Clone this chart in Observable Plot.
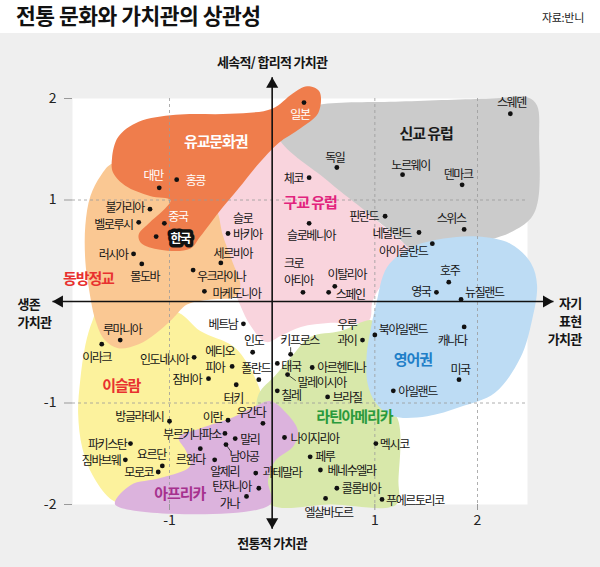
<!DOCTYPE html>
<html><head><meta charset="utf-8">
<script src="https://cdn.jsdelivr.net/npm/d3@7"></script>
<script src="https://cdn.jsdelivr.net/npm/@observablehq/plot@0.6"></script>
<style>
body{margin:0;background:#fff;font-family:"Noto Sans CJK KR",sans-serif;}
#wrap{width:600px;height:567px;position:relative}
#head{height:33px;position:relative;background:#fff}
#title{position:absolute;left:16px;top:0px;font-size:21.5px;font-weight:bold;letter-spacing:-0.5px;line-height:30px;color:#111;white-space:nowrap}
#src{position:absolute;right:16px;top:10px;font-size:11px;line-height:14px;color:#222;letter-spacing:-0.3px}
#chart svg{display:block}
.lbl text{letter-spacing:-1.4px}
.grp text{letter-spacing:-1.1px}
.axt text{letter-spacing:-0.7px}
</style></head><body>
<div id="wrap"><div id="head"><div id="title">전통 문화와 가치관의 상관성</div><div id="src">자료:반니</div></div><div id="chart"></div></div>
<script>
// ---- data ----
const names = ["대만","홍콩","불가리아","벨로루시","중국","한국","러시아","몰도바","슬로바키아","세르비아","우크라이나","마케도니아","일본","스웨덴","독일","노르웨이","체코","덴마크","핀란드","스위스","슬로베니아","네덜란드","아이슬란드","크로아티아","이탈리아","스페인","호주","영국","뉴질랜드","베트남","루마니아","이라크","인도","에티오피아","인도네시아","폴란드","잠비아","터키","방글라데시","이란","우간다","부르키나파소","말리","파키스탄","르완다","남아공","짐바브웨","요르단","알제리","모로코","과테말라","탄자니아","가나","우루과이","북아일랜드","캐나다","키프로스","태국","아르헨티나","말레이시아","칠레","브라질","미국","아일랜드","나이지리아","멕시코","페루","베네수엘라","콜롬비아","엘살바도르","푸에르토리코"];
const xVals = [-1.10,-0.93,-1.19,-1.30,-1.05,-1.13,-1.35,-1.27,-0.43,-0.50,-0.77,-0.66,0.31,2.32,0.63,1.27,0.36,1.85,1.10,1.87,0.36,1.43,1.56,0.30,0.61,0.55,1.72,1.60,1.84,-0.28,-1.48,-1.66,-0.19,-0.39,-0.76,-0.13,-0.62,-0.35,-1.00,-0.43,-0.09,-0.46,-0.36,-1.38,-0.70,-0.45,-1.43,-1.07,-0.56,-1.11,-0.16,-0.13,-0.25,0.88,1.00,1.87,0.18,0.05,0.39,0.15,0.05,0.54,1.82,1.18,0.12,1.01,0.37,0.47,0.63,0.52,1.07];
const yVals = [1.12,1.20,0.91,0.78,0.77,0.64,0.47,0.37,0.67,0.38,0.31,0.10,1.96,1.85,1.32,1.25,1.22,1.15,0.84,0.71,0.77,0.68,0.57,0.09,0.15,0.09,0.19,0.09,0.02,-0.22,-0.38,-0.42,-0.50,-0.64,-0.55,-0.77,-0.76,-0.82,-1.18,-1.17,-1.20,-1.30,-1.35,-1.40,-1.45,-1.41,-1.56,-1.62,-1.56,-1.68,-1.69,-1.84,-1.92,-0.38,-0.33,-0.25,-0.52,-0.61,-0.65,-0.72,-0.88,-0.94,-0.77,-0.88,-1.34,-1.40,-1.53,-1.66,-1.84,-1.94,-1.95];
const xTicks = [-1, 1, 2];
const yTicks = [-2, -1, 1, 2];
const groupNames = ["유교문화권","신교 유럽","구교 유럽","동방정교","이슬람","영어권","라틴아메리카","아프리카"];
const groupX = [-0.55, 1.50, 0.37, -1.79, -1.47, 1.37, 0.80, -0.90];
const groupY = [1.57, 1.65, 0.97, 0.22, -0.83, -0.58, -1.14, -1.90];
const axisTitles = ["세속적/ 합리적 가치관", "전통적 가치관", "생존\n가치관", "자기\n표현\n가치관"];
const axisExtent = {xMin: -2.14, xMax: 2.74, yMin: -2.24, yMax: 2.21};
// region outlines (data space)
const islamShape = [[-1.75,-0.19],[-1.82,-0.43],[-1.87,-0.78],[-1.89,-1.10],[-1.85,-1.44],[-1.75,-1.71],[-1.58,-1.94],[-1.43,-2.0],[-0.70,-2.0],[-0.07,-2.0],[-0.07,-1.67],[-0.09,-0.98],[-0.23,-0.63],[-0.38,-0.44],[-0.70,-0.29],[-0.91,-0.11],[-1.28,-0.04],[-1.67,-0.04]];
const orthodoxShape = [[-1.55,1.36],[-1.67,1.24],[-1.77,1.04],[-1.82,0.75],[-1.82,0.40],[-1.79,0.16],[-1.72,-0.19],[-1.63,-0.38],[-1.50,-0.46],[-1.30,-0.42],[-1.14,-0.32],[-0.97,-0.17],[-0.83,-0.03],[-0.60,0.02],[-0.36,0.05],[-0.31,0.16],[-0.39,0.40],[-0.48,0.65],[-0.54,0.90],[-0.65,1.04],[-0.99,1.14],[-1.28,1.24]];
const catholicShape = [[0.10,1.66],[0.57,1.24],[0.91,0.90],[1.25,0.60],[1.44,0.45],[1.15,0.26],[0.98,0.01],[0.94,-0.19],[0.57,-0.21],[0.28,-0.25],[0.10,-0.33],[-0.06,-0.40],[-0.21,-0.24],[-0.31,-0.04],[-0.39,0.16],[-0.46,0.40],[-0.52,0.65],[-0.55,0.88],[-0.48,1.04],[-0.26,1.27],[-0.09,1.49]];
const latinShape = [[0.37,-0.35],[0.67,-0.29],[0.98,-0.19],[0.98,-0.58],[1.04,-0.98],[1.22,-1.15],[1.23,-1.76],[1.21,-2.0],[0.57,-2.0],[-0.02,-2.0],[-0.16,-1.67],[-0.16,-1.17],[-0.13,-0.91],[0.03,-0.73],[0.20,-0.53]];
const africaShape = [[-1.53,-2.0],[-1.38,-1.81],[-1.09,-1.74],[-0.80,-1.62],[-0.84,-1.47],[-0.91,-1.34],[-0.70,-1.25],[-0.38,-1.14],[-0.16,-1.03],[-0.02,-0.98],[0.13,-1.09],[0.25,-1.27],[0.21,-1.42],[0.03,-1.57],[-0.04,-1.76],[-0.02,-2.0]];
const protestantShape = [[0.06,1.64],[0.28,1.88],[0.47,1.94],[1.25,1.97],[2.13,2.0],[2.49,2.01],[2.58,1.93],[2.60,1.59],[2.59,1.0],[2.52,0.82],[2.32,0.68],[1.93,0.55],[1.64,0.42],[1.44,0.45],[1.20,0.65],[0.86,0.93],[0.54,1.19]];
const englishShape = [[1.12,0.34],[1.35,0.53],[1.67,0.62],[2.0,0.64],[2.32,0.57],[2.52,0.38],[2.58,0.16],[2.53,-0.19],[2.42,-0.55],[2.17,-0.90],[1.83,-1.04],[1.51,-1.13],[1.18,-1.13],[1.01,-1.0],[0.93,-0.81],[0.92,-0.53],[0.96,-0.27],[1.01,-0.04]];
const confucianShape = [[-1.56,1.41],[-1.50,1.62],[-1.30,1.77],[-0.94,1.84],[-0.41,1.85],[0.0,1.90],[0.20,2.05],[0.34,2.12],[0.46,2.07],[0.45,1.86],[0.28,1.71],[0.06,1.56],[-0.13,1.36],[-0.33,1.11],[-0.52,0.88],[-0.70,0.64],[-0.80,0.52],[-1.09,0.51],[-1.28,0.58],[-1.30,0.66],[-1.19,0.78],[-1.03,0.93],[-0.99,1.0],[-1.19,1.04],[-1.43,1.14],[-1.55,1.27]];

// ---- layout / styles ----
const regionLayers = [
  {shape: islamShape, fill: "#fcf29d"},
  {shape: catholicShape, fill: "#f9d4dd"},
  {shape: orthodoxShape, fill: "#fac893"},
  {shape: latinShape, fill: "#d8e8aa"},
  {shape: africaShape, fill: "#dcb3dd"},
  {shape: protestantShape, fill: "#cbcbcb"},
  {shape: englishShape, fill: "#bddcf4"},
  {shape: confucianShape, fill: "#ef7d4c"}
];
const groupColors = ["#ffffff","#1a1a1a","#e2237d","#e8312f","#e8312f","#1f7fc8","#2a9a3c","#a6318e"];
const labelLayout = [["m",-6,-13],["s",9,0],["e",-6,-2],["e",-6,1],["s",4,-8],["m",24,3],["e",-6,0],["m",3,12],["s",5,-8],["m",12,-10],["s",4,6],["s",8,1],["m",-4,11],["m",1,-12],["m",-2,-11],["m",8,-10],["e",-6,0],["m",-4,-11],["e",-7,0],["m",-13,-12],["m",2,11],["e",-8,0],["e",-5,7],["s",-19,-21],["m",12,-12],["s",7,1],["m",1,-12],["e",-6,-2],["s",4,-8],["e",-6,0],["m",2,-11],["m",-5,13],["m",1,-12],["s",-27,-8],["e",-6,1],["m",-3,-12],["e",-7,0],["m",-3,13],["e",-6,-5],["e",-6,-3],["m",-12,-11],["e",-4,0],["s",5,0],["e",-4,0],["m",-10,10],["m",18,11],["e",-5,0],["m",-11,-12],["m",10,11],["e",-5,0],["s",7,-1],["e",-8,-2],["m",-17,6],["e",-6,-8],["s",4,-6],["m",-12,13],["m",9,-14],["s",4,2],["s",5,-1],["s",10,7],["s",4,4],["s",5,0],["m",1,-11],["s",5,0],["s",6,0],["s",4,0],["s",5,-1],["s",7,0],["s",5,0],["m",3,13],["s",4,0]];
const multiLine = {"슬로바키아":"슬로\n바키아","크로아티아":"크로\n아티아","에티오피아":"에티오\n피아","우루과이":"우루\n과이"};
const whiteLabels = new Set(["대만","홍콩","중국","일본"]);
const leaders = [{name:"남아공", x2:-0.40, y2:-1.48},{name:"말레이시아", x2:0.23, y2:-0.78},{name:"키프로스", x2:0.18, y2:-0.45}];
const anchorMap = {s:"start", e:"end", m:"middle"};

const rows = names.map((name, i) => ({name, x: xVals[i], y: yVals[i]}));
const byName = new Map(rows.map(d => [d.name, d]));
const groups = groupNames.map((name, i) => ({name, x: groupX[i], y: groupY[i], color: groupColors[i]}));

const labelMarks = rows.filter(d => d.name !== "한국").map(d => {
  const i = names.indexOf(d.name);
  const [a, dx, dy] = labelLayout[i];
  return Plot.text([d], {x: "x", y: "y", text: r => multiLine[r.name] || r.name,
    textAnchor: anchorMap[a], dx, dy, fontSize: 12, lineHeight: 1.35,
    fill: whiteLabels.has(d.name) ? "#ffffff" : "#151515", className: "lbl"});
});
const korea = byName.get("한국");
const kL = labelLayout[names.indexOf("한국")];

const axisLines = [
  {x1: 0, y1: axisExtent.yMin, x2: 0, y2: axisExtent.yMax},
  {x1: axisExtent.xMin, y1: 0, x2: axisExtent.xMax, y2: 0}
];

const chart = Plot.plot({
  width: 600, height: 534,
  marginLeft: 72, marginRight: 73, marginTop: 65, marginBottom: 63,
  x: {domain: [-1, 2], range: [169, 477]},
  y: {domain: [-2, 2]},
  style: {background: "#efefef", fontFamily: '"Noto Sans CJK KR", sans-serif', overflow: "visible"},
  marks: [
    Plot.frame({fill: "#ffffff", stroke: "none"}),
    ...regionLayers.map(r => Plot.line(r.shape, {x: d => d[0], y: d => d[1], curve: "catmull-rom-closed", fill: r.fill, stroke: "none"})),
    Plot.ruleX(xTicks, {stroke: "#9a9a9a", strokeDasharray: "3,3", strokeWidth: 0.8}),
    Plot.ruleY(yTicks.filter(t => Math.abs(t) === 1), {stroke: "#9a9a9a", strokeDasharray: "3,3", strokeWidth: 0.8}),
    Plot.axisY(yTicks, {label: null, tickSize: 8, tickPadding: 8, fontSize: 14, stroke: "#999", fill: "#222", tickFormat: d => String(d)}),
    Plot.axisX(xTicks, {label: null, tickSize: 6, tickPadding: 5, fontSize: 14, stroke: "#999", fill: "#222", tickFormat: d => String(d)}),
    Plot.link(axisLines, {x1: "x1", y1: "y1", x2: "x2", y2: "y2", stroke: "#111", strokeWidth: 1.6}),
    Plot.dot([axisLines[0]], {x: "x2", y: "y2", symbol: "triangle", r: 4.5, fill: "#111", stroke: "none", dy: 7, rotate: 0}),
    Plot.dot([axisLines[0]], {x: "x1", y: "y1", symbol: "triangle", r: 4.5, fill: "#111", stroke: "none", dy: -7, rotate: 180}),
    Plot.dot([axisLines[1]], {x: "x1", y: "y1", symbol: "triangle", r: 4.5, fill: "#111", stroke: "none", dx: 7, rotate: -90}),
    Plot.dot([axisLines[1]], {x: "x2", y: "y2", symbol: "triangle", r: 4.5, fill: "#111", stroke: "none", dx: -7, rotate: 90}),
    Plot.text([axisTitles[0]], {x: () => 0, frameAnchor: "top", dy: -41, fontSize: 13, fontWeight: "bold", fill: "#151515", className: "axt"}),
    Plot.text([axisTitles[1]], {x: () => 0, frameAnchor: "bottom", dy: 43, fontSize: 13, fontWeight: "bold", fill: "#151515", className: "axt"}),
    Plot.text([axisTitles[2]], {y: () => 0, frameAnchor: "left", dx: -55, dy: 11, textAnchor: "start", lineHeight: 1.35, fontSize: 13, fontWeight: "bold", fill: "#151515", className: "axt"}),
    Plot.text([axisTitles[3]], {y: () => 0, frameAnchor: "right", dx: 54, dy: 19, textAnchor: "end", lineHeight: 1.38, fontSize: 13, fontWeight: "bold", fill: "#151515", className: "axt"}),
    Plot.text(groups, {x: "x", y: "y", text: "name", fill: "color", fontSize: 15, fontWeight: "bold", className: "grp"}),
    Plot.link(leaders, {x1: d => byName.get(d.name).x, y1: d => byName.get(d.name).y, x2: "x2", y2: "y2", stroke: "#222", strokeWidth: 0.8}),
    Plot.dot(rows, {x: "x", y: "y", r: 2.4, fill: "#111", stroke: "none"}),
    ...labelMarks,
    Plot.text([korea], {x: "x", y: "y", text: "name", dx: kL[1], dy: kL[2], fontSize: 12, fontWeight: "bold", fill: "#fff", stroke: "#111", strokeWidth: 7, strokeLinejoin: "round", className: "lbl"})
  ]
});
document.getElementById("chart").appendChild(chart);
</script></body></html>
